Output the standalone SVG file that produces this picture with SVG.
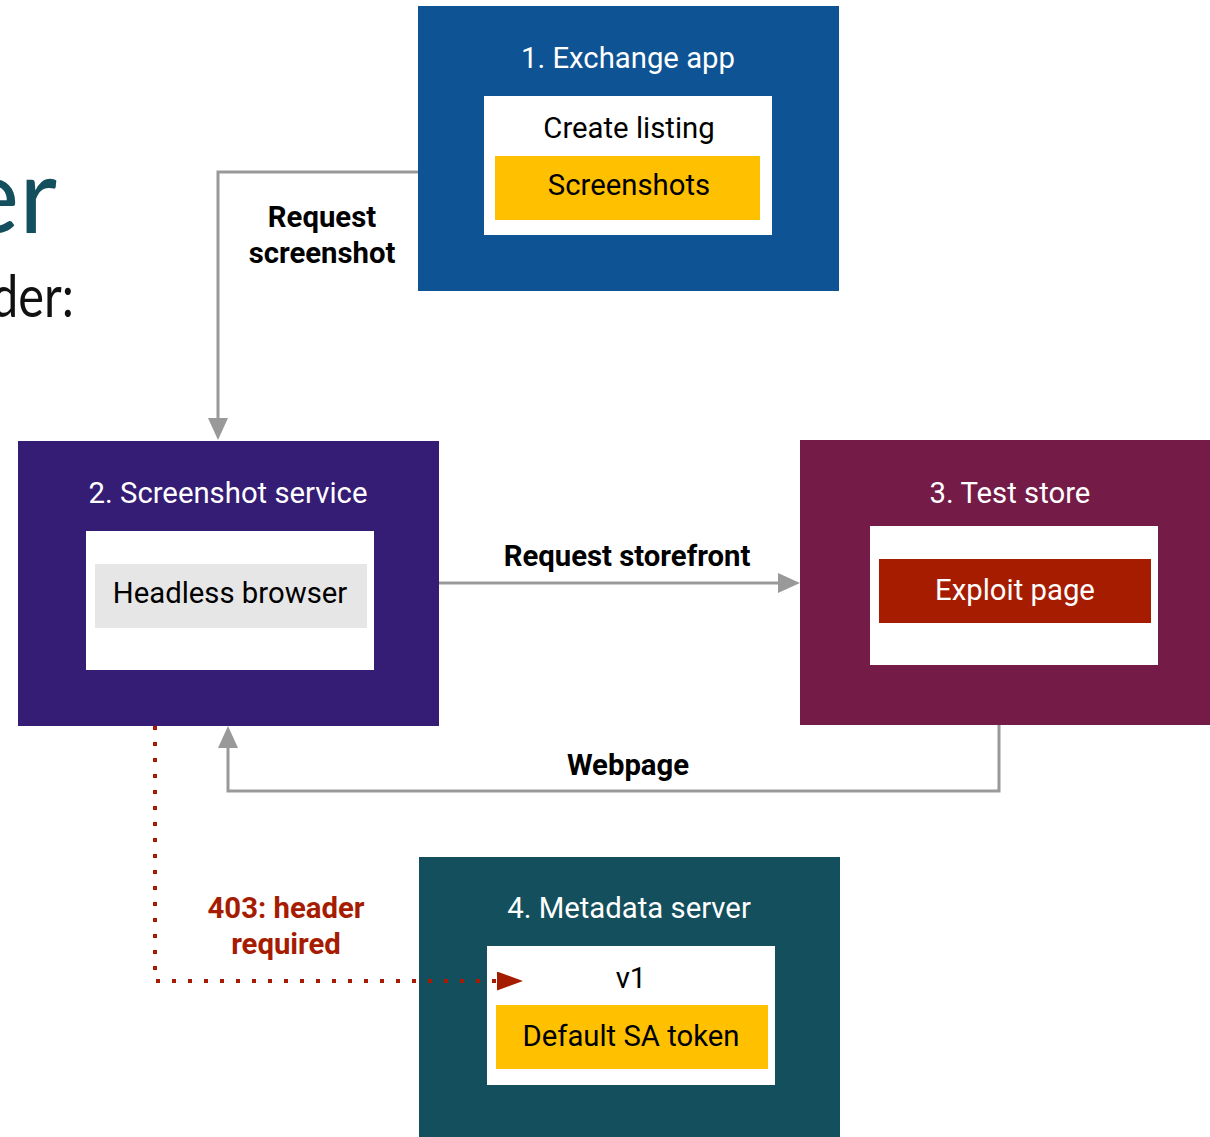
<svg xmlns="http://www.w3.org/2000/svg" width="1210" height="1137" viewBox="0 0 1210 1137">
  <style>
    .title { font-family: Roboto, "Liberation Sans", sans-serif; font-size: 29.3px; fill: #ffffff; text-anchor: middle; }
    .item { font-family: Roboto, "Liberation Sans", sans-serif; font-size: 29.3px; fill: #000000; text-anchor: middle; }
    .label { font-family: Roboto, "Liberation Sans", sans-serif; font-size: 29.3px; font-weight: bold; fill: #000000; text-anchor: middle; }
    .warn { fill: #a61c00; }
    .wire { fill: none; stroke: #999999; stroke-width: 3; }
    .dots { fill: none; stroke: #a61c00; stroke-width: 4; stroke-dasharray: 4 12; }
  </style>
  <defs>
    <marker id="arrowGray" viewBox="0 0 22 20" refX="0" refY="10" markerWidth="22" markerHeight="20" markerUnits="userSpaceOnUse" orient="auto">
      <path d="M0,0 L22,10 L0,20 Z" fill="#999999"/>
    </marker>
    <marker id="arrowRed" viewBox="0 0 26 19" refX="0" refY="9.5" markerWidth="26" markerHeight="19" markerUnits="userSpaceOnUse" orient="auto">
      <path d="M0,0 L26,9.5 L0,19 Z" fill="#a61c00"/>
    </marker>
  </defs>

  <rect width="1210" height="1137" fill="#ffffff"/>

  <!-- slide heading fragments at the left edge -->
  <text x="57" y="233" font-family="Lato, 'Open Sans', sans-serif" font-size="104" fill="#134f5c" text-anchor="end">er</text>
  <text x="-9" y="317" textLength="83" lengthAdjust="spacingAndGlyphs" font-family="Lato, 'Open Sans', sans-serif" font-size="58" fill="#111111">der:</text>

  <!-- 1. Exchange app -->
  <g id="exchange-app">
    <rect x="418" y="6" width="421" height="285" fill="#0e5394"/>
    <text class="title" x="628" y="68">1. Exchange app</text>
    <rect x="484" y="96" width="288" height="139" fill="#ffffff"/>
    <text class="item" x="629" y="138">Create listing</text>
    <rect x="495" y="156" width="265" height="64" fill="#ffc000"/>
    <text class="item" x="629" y="195">Screenshots</text>
  </g>

  <!-- 2. Screenshot service -->
  <g id="screenshot-service">
    <rect x="18" y="441" width="421" height="285" fill="#351c75"/>
    <text class="title" x="228" y="503">2. Screenshot service</text>
    <rect x="86" y="531" width="288" height="139" fill="#ffffff"/>
    <rect x="95" y="564" width="272" height="64" fill="#e6e6e6"/>
    <text class="item" x="230" y="603">Headless browser</text>
  </g>

  <!-- 3. Test store -->
  <g id="test-store">
    <rect x="800" y="440" width="421" height="285" fill="#741b47"/>
    <text class="title" x="1010" y="503">3. Test store</text>
    <rect x="870" y="526" width="288" height="139" fill="#ffffff"/>
    <rect x="879" y="559" width="272" height="64" fill="#a61c00"/>
    <text class="title" x="1015" y="600">Exploit page</text>
  </g>

  <!-- 4. Metadata server -->
  <g id="metadata-server">
    <rect x="419" y="857" width="421" height="285" fill="#134f5c"/>
    <text class="title" x="629" y="918">4. Metadata server</text>
    <rect x="487" y="946" width="288" height="139" fill="#ffffff"/>
    <text class="item" x="631" y="988">v1</text>
    <rect x="496" y="1005" width="272" height="64" fill="#ffc000"/>
    <text class="item" x="631" y="1046">Default SA token</text>
  </g>

  <!-- connectors (drawn over the boxes so the dotted request stays visible) -->
  <g id="connectors">
    <path class="wire" d="M418,172 H218 V418" marker-end="url(#arrowGray)"/>
    <path class="wire" d="M439,583 H778" marker-end="url(#arrowGray)"/>
    <path class="wire" d="M999,725 V791 H228 V748" marker-end="url(#arrowGray)"/>
    <path class="dots" d="M155,726 V981 H497" marker-end="url(#arrowRed)"/>
    <text class="label" x="322" y="227">Request</text>
    <text class="label" x="322" y="263">screenshot</text>
    <text class="label" x="627" y="566">Request storefront</text>
    <text class="label" x="628" y="775">Webpage</text>
    <text class="label warn" x="286" y="918">403: header</text>
    <text class="label warn" x="286" y="954">required</text>
  </g>
</svg>
